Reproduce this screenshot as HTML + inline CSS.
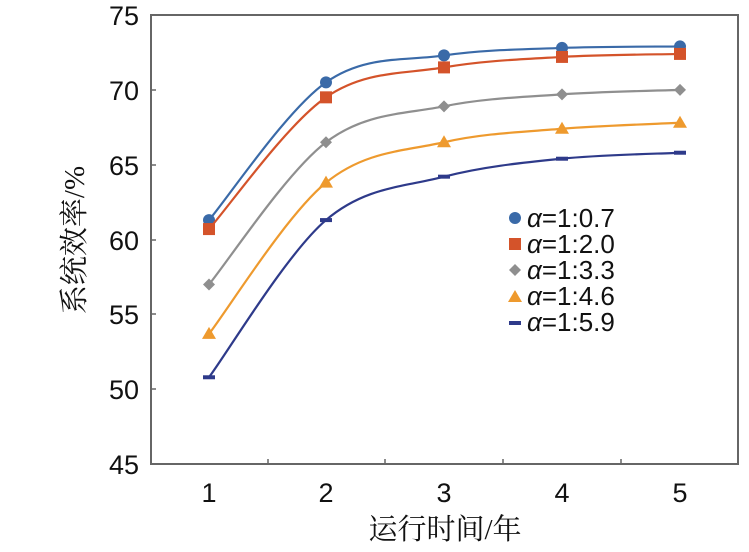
<!DOCTYPE html>
<html><head><meta charset="utf-8"><style>
body{margin:0;background:#fff;}
svg{display:block;}
text{font-family:"Liberation Sans",Arial,sans-serif;fill:#111;}
</style></head><body>
<svg id="s" width="749" height="552" xmlns="http://www.w3.org/2000/svg">
<rect x="151" y="15" width="587" height="449" fill="none" stroke="#666" stroke-width="2"/>
<g font-size="27" text-anchor="end">
<text x="139" y="25">75</text><text x="139" y="100">70</text><text x="139" y="175">65</text>
<text x="139" y="250">60</text><text x="139" y="324">55</text><text x="139" y="399">50</text><text x="139" y="474">45</text>
</g>
<g stroke="#666" stroke-width="1.5">
<line x1="151" y1="90" x2="156" y2="90"/><line x1="151" y1="165" x2="156" y2="165"/><line x1="151" y1="240" x2="156" y2="240"/>
<line x1="151" y1="314" x2="156" y2="314"/><line x1="151" y1="389" x2="156" y2="389"/>
<line x1="268" y1="464" x2="268" y2="459"/><line x1="385" y1="464" x2="385" y2="459"/><line x1="503" y1="464" x2="503" y2="459"/><line x1="621" y1="464" x2="621" y2="459"/>
</g>
<g font-size="27" text-anchor="middle">
<text x="209" y="502">1</text><text x="326" y="502">2</text><text x="444" y="502">3</text><text x="562" y="502">4</text><text x="680" y="502">5</text>
</g>
<text x="445" y="539" text-anchor="middle" font-size="29" style="font-family:'Liberation Serif','Noto Serif CJK SC',serif">运行时间/年</text>
<text transform="translate(84,240) rotate(-90)" text-anchor="middle" font-size="29" style="font-family:'Liberation Serif','Noto Serif CJK SC',serif">系统效率/%</text>
<g id="series"></g>
<g font-size="26">
<circle cx="515" cy="218" r="6" fill="#3a6aa8"/><text x="527" y="227"><tspan font-style="italic">α</tspan>=1:0.7</text>
<rect x="509" y="238" width="12" height="12" fill="#d4532a"/><text x="527" y="253"><tspan font-style="italic">α</tspan>=1:2.0</text>
<polygon points="515,264 521,270 515,276 509,270" fill="#8f8f8f"/><text x="527" y="279"><tspan font-style="italic">α</tspan>=1:3.3</text>
<polygon points="515,290 522,302 508,302" fill="#ee9a2e"/><text x="527" y="305"><tspan font-style="italic">α</tspan>=1:4.6</text>
<rect x="509" y="321" width="12" height="4" fill="#2e3a8a"/><text x="527" y="331"><tspan font-style="italic">α</tspan>=1:5.9</text>
</g>
</svg>
<script>
var X=[209,326,444,562,680];
function Y(v){return 15+(75-v)*14.97;}
var S=[
["#3a6aa8",[61.3,70.5,72.3,72.8,72.9],"c"],
["#d4532a",[60.7,69.5,71.5,72.2,72.4],"s"],
["#8f8f8f",[57,66.5,68.9,69.7,70],"d"],
["#ee9a2e",[53.7,63.8,66.5,67.4,67.8],"t"],
["#2e3a8a",[50.8,61.3,64.2,65.4,65.8],"m"]];
var g=document.getElementById("series"),h="";
S.forEach(function(s){
 var p=s[1].map(function(v,i){return [X[i],Y(v)];});
 var d="M"+p[0][0]+","+p[0][1];
 for(var i=0;i<p.length-1;i++){
  var p0=p[i-1]||p[i],p1=p[i],p2=p[i+1],p3=p[i+2]||p[i+1],t=0.5/3;
  var c1=[p1[0]+(p2[0]-p0[0])*t,p1[1]+(p2[1]-p0[1])*t];
  var c2=[p2[0]-(p3[0]-p1[0])*t,p2[1]-(p3[1]-p1[1])*t];
  d+=" C"+c1+" "+c2+" "+p2;
 }
 h+='<path d="'+d+'" fill="none" stroke="'+s[0]+'" stroke-width="2.2"/>';
 p.forEach(function(q){
  var x=q[0],y=q[1];
  if(s[2]=="c")h+='<circle cx="'+x+'" cy="'+y+'" r="6" fill="'+s[0]+'"/>';
  if(s[2]=="s")h+='<rect x="'+(x-6)+'" y="'+(y-6)+'" width="12" height="12" fill="'+s[0]+'"/>';
  if(s[2]=="d")h+='<polygon points="'+x+','+(y-6)+' '+(x+6)+','+y+' '+x+','+(y+6)+' '+(x-6)+','+y+'" fill="'+s[0]+'"/>';
  if(s[2]=="t")h+='<polygon points="'+x+','+(y-7)+' '+(x+7)+','+(y+5)+' '+(x-7)+','+(y+5)+'" fill="'+s[0]+'"/>';
  if(s[2]=="m")h+='<rect x="'+(x-6)+'" y="'+(y-2)+'" width="12" height="4" fill="'+s[0]+'"/>';
 });
});
g.innerHTML=h;
</script>
</body></html>
